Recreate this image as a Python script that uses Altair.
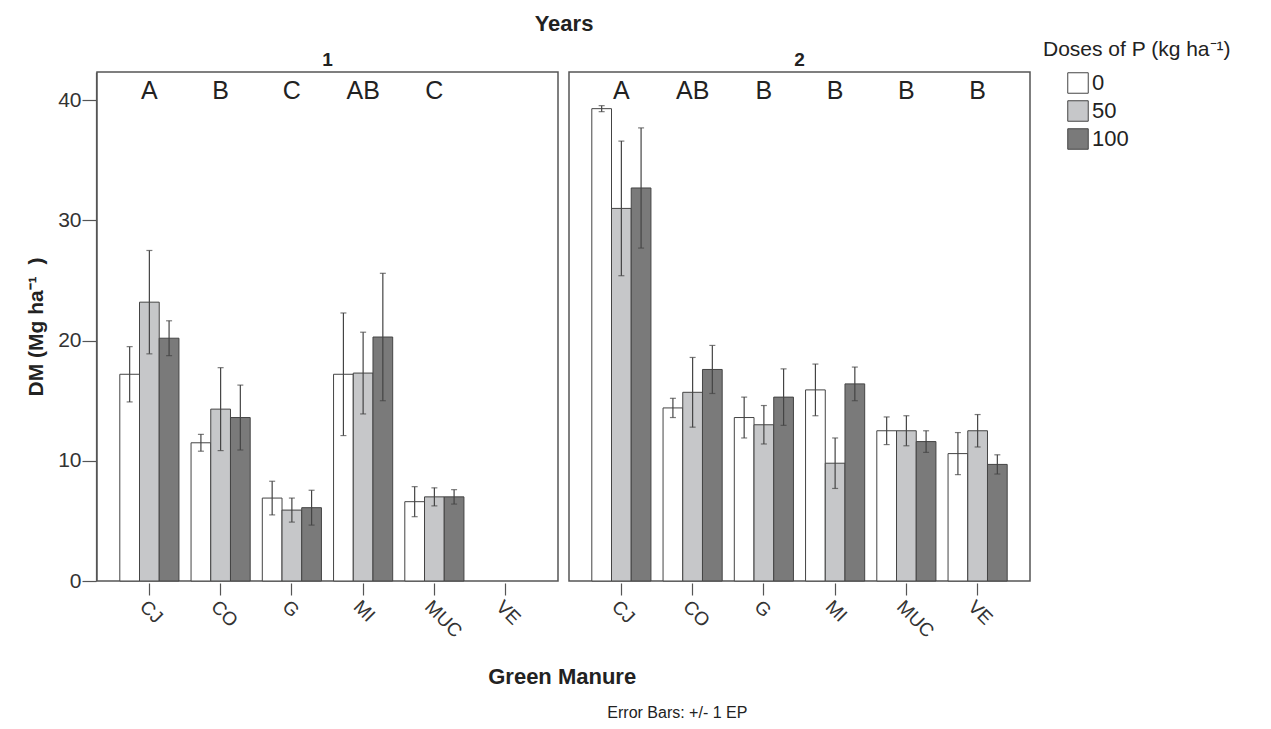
import altair as alt
import pandas as pd

cats = ["CJ", "CO", "G", "MI", "MUC", "VE"]
doses = ["0", "50", "100"]
years = ["1", "2"]

# Year 1 (VE has no data)
y1_mean_0 = [17.2, 11.5, 6.9, 17.2, 6.6, None]
y1_se_0 = [2.3, 0.7, 1.4, 5.1, 1.25, None]
y1_mean_50 = [23.2, 14.3, 5.9, 17.3, 7.0, None]
y1_se_50 = [4.3, 3.45, 1.0, 3.4, 0.75, None]
y1_mean_100 = [20.2, 13.6, 6.1, 20.3, 7.0, None]
y1_se_100 = [1.45, 2.7, 1.45, 5.3, 0.6, None]
y1_letters = ["A", "B", "C", "AB", "C", ""]

# Year 2
y2_mean_0 = [39.3, 14.4, 13.6, 15.9, 12.5, 10.6]
y2_se_0 = [0.25, 0.8, 1.7, 2.15, 1.15, 1.75]
y2_mean_50 = [31.0, 15.7, 13.0, 9.8, 12.5, 12.5]
y2_se_50 = [5.6, 2.9, 1.6, 2.1, 1.25, 1.35]
y2_mean_100 = [32.7, 17.6, 15.3, 16.4, 11.6, 9.7]
y2_se_100 = [5.0, 2.0, 2.35, 1.4, 0.9, 0.8]
y2_letters = ["A", "AB", "B", "B", "B", "B"]

series = {
    ("1", "0"): (y1_mean_0, y1_se_0), ("1", "50"): (y1_mean_50, y1_se_50),
    ("1", "100"): (y1_mean_100, y1_se_100),
    ("2", "0"): (y2_mean_0, y2_se_0), ("2", "50"): (y2_mean_50, y2_se_50),
    ("2", "100"): (y2_mean_100, y2_se_100),
}
letters = {"1": y1_letters, "2": y2_letters}

rows = []
for (yr, d), (means, ses) in series.items():
    for i, c in enumerate(cats):
        if means[i] is None:
            continue
        rows.append({"year": yr, "cat": c, "dose": d, "mean": means[i],
                     "se": ses[i], "letter": letters[yr][i]})
df = pd.DataFrame(rows)

FONT = "Liberation Sans"
NB = "\u00a0"

xscale = alt.Scale(domain=cats, paddingInner=0.17, paddingOuter=0.32)
xenc = alt.X("cat:N", scale=xscale,
             axis=alt.Axis(title=None, labelAngle=45, labelAlign="left", labelBaseline="top",
                           labelFontSize=19, labelColor="#333", tickSize=12, tickColor="#555",
                           tickWidth=1.2, domain=False, labelPadding=2))
xoff = alt.XOffset("dose:N", sort=doses, scale=alt.Scale(domain=doses))
yscale = alt.Scale(domain=[0, 42.35], nice=False)

base = alt.Chart().encode(x=xenc, xOffset=xoff)

bars = base.mark_bar(stroke="#444", strokeWidth=1).encode(
    y=alt.Y("mean:Q", scale=yscale,
            axis=alt.Axis(title="DM (Mg ha⁻¹" + NB + NB + ")", values=[0, 10, 20, 30, 40],
                          grid=False, labelFontSize=21, labelColor="#333", tickSize=14,
                          tickColor="#555", tickWidth=1.2, domainColor="#555",
                          domainWidth=1.2, labelPadding=1, titleFontSize=21,
                          titleFontWeight="bold", titleColor="#222", titlePadding=11)),
    fill=alt.Fill("dose:N", sort=doses,
                  scale=alt.Scale(domain=doses, range=["#ffffff", "#c6c7c9", "#7a7a7a"]),
                  legend=alt.Legend(title="Doses of P (kg ha⁻¹)")),
)

calc = dict(lo="datum.mean - datum.se", hi="datum.mean + datum.se")
rule = base.mark_rule(color="#444", strokeWidth=1.2).encode(
    y=alt.Y("lo:Q", scale=yscale), y2="hi:Q").transform_calculate(**calc)
cap_hi = base.mark_tick(color="#444", thickness=1.2, size=6).encode(
    y=alt.Y("hi:Q", scale=yscale)).transform_calculate(**calc)
cap_lo = base.mark_tick(color="#444", thickness=1.2, size=6).encode(
    y=alt.Y("lo:Q", scale=yscale)).transform_calculate(**calc)

text = alt.Chart().mark_text(fontSize=25, font=FONT, color="#222").encode(
    x=alt.X("cat:N", scale=xscale),
    y=alt.datum(40.8, scale=yscale),
    text="letter:N",
).transform_filter("datum.dose == '0'")

layer = alt.layer(bars, rule, cap_hi, cap_lo, text, data=df).properties(width=461, height=509)

faceted = layer.facet(
    column=alt.Column("year:N", sort=years,
                      header=alt.Header(title="Years", titleFontSize=22, titleFontWeight="bold",
                                        titleColor="#222", labelFontSize=19,
                                        labelFontWeight="bold", labelColor="#222",
                                        labelPadding=1, titlePadding=5)),
    spacing=9,
).properties(
    title=alt.TitleParams("Green Manure", orient="bottom", anchor="middle", frame="bounds",
                          fontSize=22, fontWeight="bold", color="#222", offset=26, dx=34),
)

chart = alt.vconcat(faceted).properties(
    padding={"left": 17, "top": 5, "right": 5, "bottom": 5},
    title=alt.TitleParams("Error Bars: +/- 1 EP", orient="bottom", anchor="middle",
                          frame="bounds", fontSize=16, fontWeight="normal", color="#222",
                          offset=17, dx=49),
).configure(font=FONT, background="white").configure_view(
    stroke="#555", strokeWidth=1.5
).configure_legend(
    orient="none", legendX=946, legendY=-33, titleFontSize=21, titleFontWeight="normal",
    titleColor="#222", titleLimit=400, labelFontSize=22, labelColor="#222",
    symbolType="square", symbolSize=420, symbolStrokeColor="#444", symbolStrokeWidth=1,
    symbolOffset=24, rowPadding=2, titlePadding=12, labelOffset=3,
)

chart.save("out.html", embed_options={"renderer": "svg", "actions": False})
